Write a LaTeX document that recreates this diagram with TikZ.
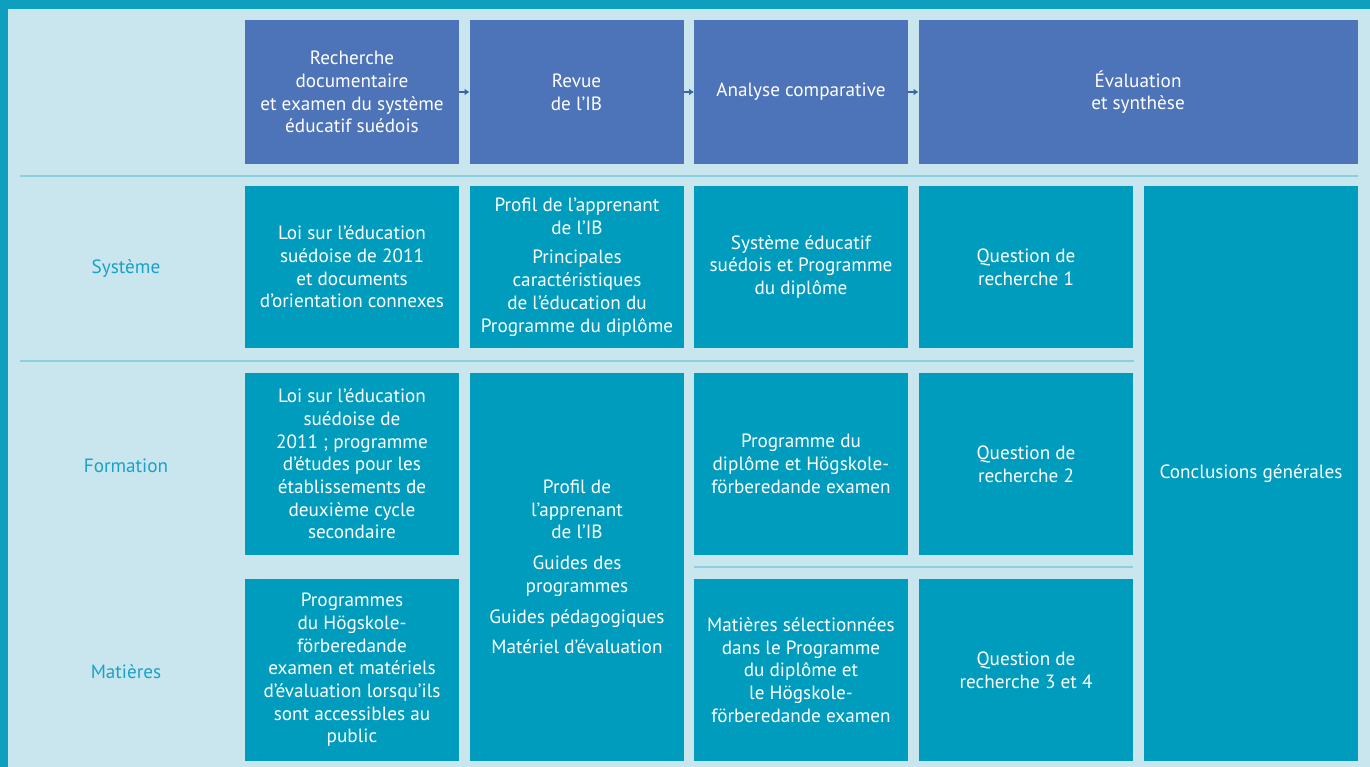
\documentclass[tikz,border=0pt]{standalone}
\usepackage{fontspec}
\setmainfont{PT Sans}
\usepackage{tikz}
\usetikzlibrary{arrows.meta}
\usetikzlibrary{chains,positioning}
\definecolor{frameteal}{HTML}{0E9FBF}
\definecolor{paneblue}{HTML}{C9E6EF}
\definecolor{headblue}{HTML}{4D73B8}
\definecolor{boxteal}{HTML}{009CBD}
\definecolor{labteal}{HTML}{19A2C6}
\definecolor{ruleblue}{HTML}{8CCFE0}
\definecolor{arrblue}{HTML}{3F63AB}

\begin{document}
\begin{tikzpicture}[
		x=1pt, y=-1pt,
		node distance=10.5pt,
		start chain = A going right,
		H/.style = {rectangle, fill=headblue, text=white,% header steps (chain)
			minimum width=214pt, minimum height=144pt,
			inner sep=0pt, outer sep=0pt, align=center, on chain},
		C/.style = {rectangle, fill=boxteal, text=white,% content boxes
			minimum width=214pt, inner sep=0pt, outer sep=0pt,
			align=center, anchor=north west},
		L/.style = {text=labteal},% row labels
		R/.style = {draw=ruleblue, line width=1.5pt},% separator rules
		arr/.style = {draw=arrblue, line width=1.2pt,
			-{Latex[length=5pt,width=7pt]}},
		font=\fontsize{19.2}{22.7}\selectfont
		]
		% frame and pane
		\useasboundingbox (0,0) rectangle (1370,767);
		\fill[frameteal] (0,0) rectangle (1370,767);
		\fill[paneblue] (8,9) rectangle (1370,767);
		% header
		\node[H] at (352,92) {Recherche\\documentaire\\et examen du système\\éducatif suédois};
		\node[H] {Revue\\de l’IB};
		\node[H] {Analyse comparative};
		\node[H, minimum width=439pt] {Évaluation\\et synthèse};
		\foreach \i/\j in {1/2,2/3,3/4}
		\draw[arr] (A-\i) -- (A-\j);
		% rules
		\coordinate (r1a) at (20,176);   \coordinate (r1b) at (1358,176);
		\coordinate (r2a) at (20,361);   \coordinate (r2b) at (1134,361);
		\coordinate (r3a) at (694,567);  \coordinate (r3b) at (1133,567);
		\draw[R] (r1a) -- (r1b);
		\draw[R] (r2a) -- (r2b);
		\draw[R] (r3a) -- (r3b);
		% row labels
		\node[L] (sys) at (126,269) {Système};
		\node[L] (form) at (126,466) {Formation};
		\node[L] (mat) at (126,672) {Matières};
		% Système
		\node[C, minimum height=162pt] (s1) at (245,186) {Loi sur l’éducation\\suédoise de 2011\\et documents\\d’orientation connexes};
		\node[C, minimum height=162pt] (s2) at (470,186) {Profil de l’apprenant\\de l’IB\\[7pt]Principales\\caractéristiques\\de l’éducation du\\Programme du diplôme};
		\node[C, minimum height=162pt] (s3) at (694,186) {Système éducatif\\suédois et Programme\\du diplôme};
		\node[C, minimum height=162pt] (s4) at (919,186) {Question de\\recherche 1};
		% Formation
		\node[C, minimum height=182pt] (f1) at (245,373) {Loi sur l’éducation\\suédoise de\\2011 ; programme\\d’études pour les\\établissements de\\deuxième cycle\\secondaire};
		\node[C, minimum height=388pt] (f2) at (470,373) {Profil de\\l’apprenant\\de l’IB\\[8pt]Guides des\\programmes\\[8pt]Guides pédagogiques\\[8pt]Matériel d’évaluation};
		\node[C, minimum height=182pt] (f3) at (694,373) {Programme du\\diplôme et Högskole-\\förberedande examen};
		\node[C, minimum height=182pt] (f4) at (919,373) {Question de\\recherche 2};
		% Matières
		\node[C, minimum height=182pt] (m1) at (245,579) {Programmes\\du Högskole-\\förberedande\\examen et matériels\\d’évaluation lorsqu’ils\\sont accessibles au\\public};
		\node[C, minimum height=182pt] (m3) at (694,579) {Matières sélectionnées\\dans le Programme\\du diplôme et\\le Högskole-\\förberedande examen};
		\node[C, minimum height=182pt] (m4) at (919,579) {Question de\\recherche 3 et 4};
		% conclusions
		\node[C, minimum height=575pt] (conc) at (1144,186) {Conclusions générales};
	\end{tikzpicture}
\end{document}
